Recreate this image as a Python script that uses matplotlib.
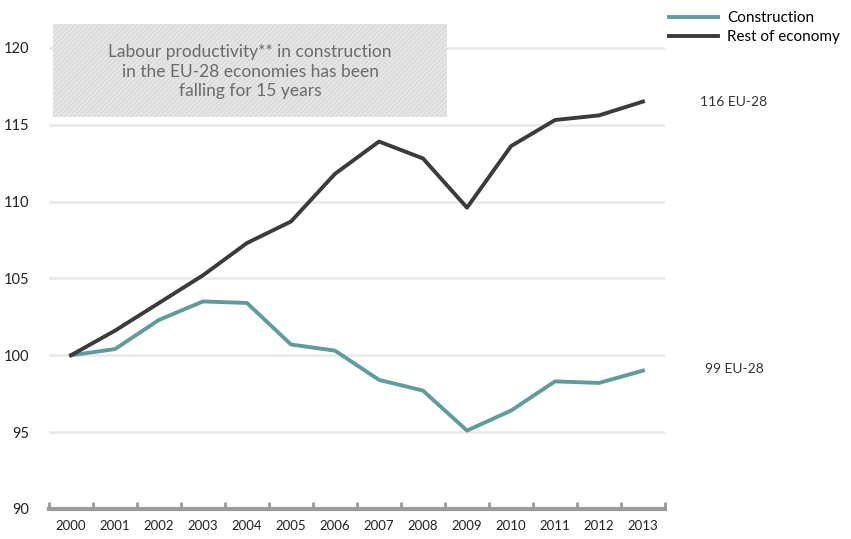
import matplotlib.pyplot as plt
import numpy as np

plt.rcParams['font.family'] = ['Lato', 'DejaVu Sans']

years = list(range(2000, 2014))
construction = [100, 100.4, 102.3, 103.5, 103.4, 100.7, 100.3, 98.4, 97.7, 95.1, 96.4, 98.3, 98.2, 99.0]
rest_of_economy = [100, 101.6, 103.4, 105.2, 107.3, 108.7, 111.8, 113.9, 112.8, 109.6, 113.6, 115.3, 115.6, 116.5]
y_ticks = [90, 95, 100, 105, 110, 115, 120]
note = "Labour productivity** in construction\nin the EU-28 economies has been\nfalling for 15 years"

W, H = 851, 539
fig = plt.figure(figsize=(W / 100, H / 100), dpi=100)
# axes placed in pixel terms: x from 49 to 665, y (from top) 509 -> 17
ax = fig.add_axes([49 / W, 30 / H, 616 / W, 492 / H])
ax.set_xlim(1999.5, 2013.5)
ax.set_ylim(90, 122)

teal = '#5f9c9a'
dark = '#3b3b3b'

# grid lines
for v in y_ticks[1:]:
    ax.axhline(v, color='#e9e9e9', lw=1.8, zorder=0)

# note box
plt.rcParams['hatch.linewidth'] = 0.6
ax.add_patch(plt.Rectangle((1999.59, 115.5), 8.96, 6.05, facecolor='#e6e6e6',
                           edgecolor='#d2d2d2', hatch='///////', lw=0, zorder=1))
ax.text(2004.07, 118.45, note, ha='center', va='center', fontsize=12.5,
        color='#6a6a6a', linespacing=1.3, zorder=2)

ax.plot(years, construction, color=teal, lw=2.8, label='Construction', zorder=3)
ax.plot(years, rest_of_economy, color=dark, lw=2.8, label='Rest of economy', zorder=3)

# end labels
ax.text(2014.3, 116.5, '116 EU-28', fontsize=10, color='#333333', va='center', clip_on=False)
ax.text(2014.4, 99.1, '99 EU-28', fontsize=10, color='#333333', va='center', clip_on=False)

# bottom axis
for s in ['top', 'right', 'left']:
    ax.spines[s].set_visible(False)
ax.spines['bottom'].set_color('#9a9a9a')
ax.spines['bottom'].set_linewidth(3)
ax.set_xticks(np.arange(1999.5, 2014, 1), minor=True)
ax.set_xticks(years)
ax.set_xticklabels([str(y) for y in years], fontsize=9.5, color='#222222')
ax.tick_params(axis='x', which='major', length=0, pad=8)
ax.tick_params(axis='x', which='minor', length=5, width=2, color='#9a9a9a', direction='in')
ax.set_yticks(y_ticks)
ax.set_yticklabels([str(v) for v in y_ticks], fontsize=10.5, color='#222222')
ax.tick_params(axis='y', length=0, pad=14)

fig.legend(loc='upper left', bbox_to_anchor=(663 / W, 1 - 5 / H), frameon=False,
           fontsize=11, handlelength=3.2, handletextpad=0.6, labelspacing=0.35,
           borderaxespad=0)

fig.savefig('out.png', dpi=100)
